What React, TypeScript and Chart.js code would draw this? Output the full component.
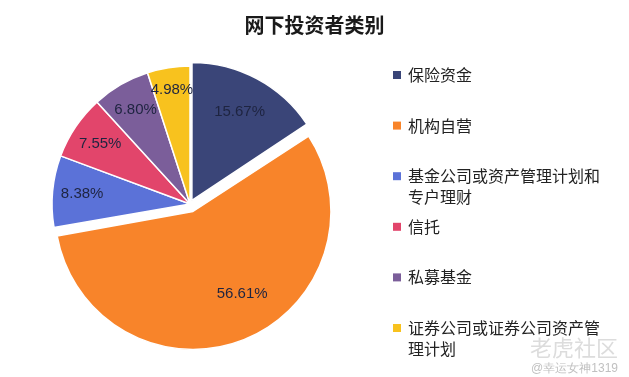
import React, { useEffect, useRef } from "react";
import { Chart, registerables } from "chart.js";

Chart.register(...registerables);

const title = "网下投资者类别";
const categories = [
  "保险资金",
  "机构自营",
  "基金公司或资产管理计划和专户理财",
  "信托",
  "私募基金",
  "证券公司或证券公司资产管理计划",
];
const shares = [15.67, 56.61, 8.38, 7.55, 6.8, 4.98];
const sliceColors = ["#3A4578", "#F8842A", "#5B72D8", "#E2456B", "#7B5E9A", "#F8C21E"];
const explode = [16, 32, 0, 0, 0, 0];
const watermark = "老虎社区";
const watermarkUser = "@幸运女神1319";

const CJK = '"Noto Sans CJK SC", "Noto Sans", sans-serif';

function wrapChars(ctx: CanvasRenderingContext2D, text: string, maxWidth: number): string[] {
  const lines: string[] = [];
  let cur = "";
  for (const ch of Array.from(text)) {
    if (cur && ctx.measureText(cur + ch).width > maxWidth) {
      lines.push(cur);
      cur = ch;
    } else {
      cur += ch;
    }
  }
  if (cur) lines.push(cur);
  return lines;
}

const decorPlugin = {
  id: "decor",
  // keep exploded slices at the same radius as the others
  afterDatasetUpdate(chart: any, args: any) {
    const meta = args.meta;
    meta.data.forEach((arc: any) => {
      const off = (arc.options && arc.options.offset) || 0;
      if (!off) return;
      const circ = arc.circumference;
      const fix = 1 - Math.sin(Math.min(Math.PI, circ || 0));
      arc.outerRadius = arc.outerRadius - (off / 4) * fix;
    });
  },
  afterDatasetsDraw(chart: any) {
    const ctx: CanvasRenderingContext2D = chart.ctx;
    const meta = chart.getDatasetMeta(0);
    ctx.save();
    ctx.font = '15px "Liberation Sans", Arial, sans-serif';
    ctx.fillStyle = "#1e2440";
    ctx.textAlign = "center";
    ctx.textBaseline = "middle";
    const maxShare = Math.max(...shares);
    meta.data.forEach((arc: any, i: number) => {
      const p = arc.getProps(["x", "y", "startAngle", "endAngle", "outerRadius"], true);
      let mid = (p.startAngle + p.endAngle) / 2;
      if (shares[i] === maxShare) mid -= 0.15;
      const off = (arc.options.offset || 0) / 4;
      const f = shares[i] > 10 ? 0.735 : shares[i] < 5 ? 0.84 : 0.785;
      const rr = off + p.outerRadius * f;
      ctx.fillText(shares[i].toFixed(2) + "%", p.x + Math.cos(mid) * rr, p.y + Math.sin(mid) * rr);
    });
    ctx.restore();
  },
  afterDraw(chart: any) {
    const ctx: CanvasRenderingContext2D = chart.ctx;
    const W = chart.width;
    ctx.save();
    ctx.font = `bold 20px ${CJK}`;
    ctx.fillStyle = "#1a1a1a";
    ctx.textAlign = "center";
    ctx.textBaseline = "middle";
    ctx.fillText(title, W / 2, 25);

    const lx = 393;
    const tx = 408;
    const y0 = 75;
    const step = 50.6;
    ctx.font = `16px ${CJK}`;
    ctx.textAlign = "left";
    categories.forEach((cat, i) => {
      const y = y0 + step * i;
      ctx.fillStyle = sliceColors[i];
      ctx.fillRect(lx, y - 4, 8, 8);
      ctx.fillStyle = "#222222";
      const lines = wrapChars(ctx, cat, 200);
      lines.forEach((ln, k) => ctx.fillText(ln, tx, y + k * 20.5));
    });

    ctx.fillStyle = "rgba(205,205,205,0.7)";
    ctx.font = `22px ${CJK}`;
    ctx.textAlign = "right";
    ctx.fillText(watermark, 618, 348);
    ctx.font = '12px "Liberation Sans", sans-serif';
    ctx.fillStyle = "rgba(185,185,185,0.9)";
    ctx.fillText(watermarkUser, 618, 369);
    ctx.restore();
  },
};

export default function App() {
  const ref = useRef<HTMLCanvasElement | null>(null);
  useEffect(() => {
    if (!ref.current) return;
    const chart = new Chart(ref.current, {
      type: "pie",
      data: {
        labels: categories,
        datasets: [
          {
            data: shares,
            backgroundColor: sliceColors,
            borderColor: "#ffffff",
            borderWidth: 1.5,
            offset: explode,
          },
        ],
      },
      options: {
        responsive: false,
        animation: false,
        radius: 138,
        layout: { padding: { left: 32, right: 281, top: 47, bottom: 16 } },
        plugins: {
          legend: { display: false },
          title: { display: false },
          tooltip: { enabled: false },
        },
      },
      plugins: [decorPlugin],
    } as any);
    return () => chart.destroy();
  }, []);
  return (
    <div style={{ position: "fixed", left: 0, top: 0, width: 629, height: 377, background: "#fff" }}>
      <canvas ref={ref} width={629} height={377} />
    </div>
  );
}
